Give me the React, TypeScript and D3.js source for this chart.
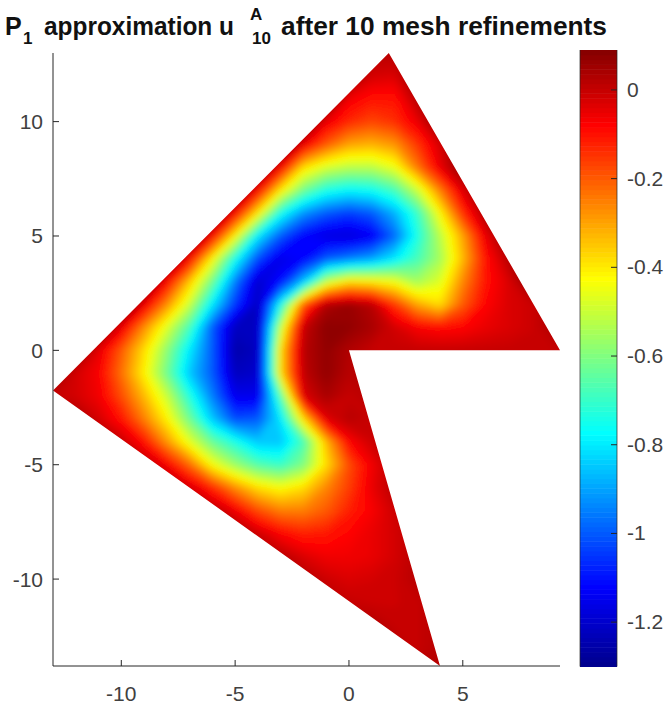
import React, { useMemo } from 'react';
import * as d3 from 'd3';

const W = 672;
const H = 711;

// field, one row per integer y, columns per integer x
const gridX0 = -13;
const gridXCount = 24;
const gridY = d3.range(13, -15, -1);
const outsideValue = 0.02;
const rowStartX = [-13, 0, -1, -2, -3, -4, -5, -6, -7, -8, -9, -10, -11, -12, -13, -13, -12, -11, -9, -8, -6, -5, -3, -2, -1, 1, 2, -13];
const rowValues = [
    [],
    [0.08, -0.02, -0.03, 0.08],
    [0.15, -0.06, -0.1, -0.1, 0.02, 0.08],
    [0.15, -0.05, -0.13, -0.17, -0.14, -0.05, 0.08],
    [0.15, -0.05, -0.2, -0.3, -0.32, -0.28, -0.15, -0.02, 0.1],
    [0.15, -0.07, -0.38, -0.48, -0.52, -0.52, -0.45, -0.24, -0.05, 0.08],
    [0.15, -0.08, -0.4, -0.62, -0.74, -0.78, -0.76, -0.68, -0.5, -0.25, -0.03, 0.08],
    [0.15, -0.08, -0.4, -0.75, -0.92, -1.0, -1.04, -1.0, -0.88, -0.7, -0.42, -0.14, 0.04, 0.08],
    [0.15, -0.08, -0.42, -0.8, -1.0, -1.12, -1.17, -1.18, -1.14, -0.98, -0.74, -0.52, -0.3, -0.05, 0.08],
    [0.15, -0.08, -0.42, -0.75, -1.02, -1.16, -1.12, -1.0, -0.95, -0.9, -0.8, -0.68, -0.55, -0.33, -0.1, 0.02, 0.08],
    [0.15, -0.08, -0.35, -0.62, -0.95, -1.2, -1.1, -0.85, -0.5, -0.38, -0.4, -0.44, -0.55, -0.47, -0.26, -0.1, -0.03, 0.08],
    [0.15, -0.05, -0.27, -0.5, -0.8, -1.05, -1.22, -0.75, -0.2, 0.03, 0.06, 0.02, -0.15, -0.3, -0.38, -0.2, -0.08, -0.03, -0.01, 0.04],
    [0.12, -0.05, -0.27, -0.47, -0.68, -1.0, -1.22, -1.22, -0.5, 0, 0.08, 0.07, 0.04, -0.02, -0.07, -0.09, -0.08, -0.05, -0.03, -0.01, 0.03],
    [0.1, -0.04, -0.2, -0.38, -0.58, -0.8, -1.0, -1.25, -1.22, -0.38, 0.02, 0.07, 0.03, 0, 0, 0, 0, 0, 0, 0, 0, 0, 0],
    [0.08, -0.02, -0.07, -0.23, -0.41, -0.62, -0.85, -1.0, -1.22, -1.2, -0.38, 0.01, 0.07, 0.02, 0.02],
    [0, -0.02, -0.06, -0.18, -0.33, -0.5, -0.73, -0.95, -1.15, -1.15, -0.65, -0.03, 0.04, 0, 0.02],
    [0.05, -0.02, -0.1, -0.25, -0.41, -0.62, -0.85, -1.02, -1.0, -0.8, -0.38, -0.04, 0.02, 0, 0.02],
    [0.06, 0, -0.1, -0.28, -0.46, -0.63, -0.74, -0.85, -0.85, -0.68, -0.33, -0.08, -0.01, 0.02],
    [0.03, -0.07, -0.22, -0.43, -0.56, -0.66, -0.7, -0.6, -0.38, -0.18, -0.06, 0.02],
    [0.06, -0.02, -0.13, -0.27, -0.38, -0.43, -0.38, -0.26, -0.16, -0.05, 0.02],
    [0.03, -0.06, -0.18, -0.25, -0.25, -0.2, -0.12, -0.07, -0.01, 0.02],
    [0.05, -0.01, -0.08, -0.12, -0.11, -0.08, -0.05, -0.02, 0.02],
    [0.02, -0.03, -0.06, -0.06, -0.05, -0.02, 0.02],
    [0.03, -0.01, -0.03, -0.02, -0.01, 0.02],
    [0.03, 0, -0.01, -0.01, 0, 0.02],
    [0.03, 0, 0, 0.02],
    [0.02, 0, 0.02],
    [],
];

const domainX = [1.75, 9.27, 0, 4, -13];
const domainY = [13, 0, 0, -13.8, -1.75];

const xTicks = [-10, -5, 0, 5];
const yTicks = [-10, -5, 0, 5, 10];
const barTicks = [0, -0.2, -0.4, -0.6, -0.8, -1, -1.2];

const colorMin = -1.3;
const colorMax = 0.09;
const levelCount = 128;

const jetStops = ['#00008f', '#0000ff', '#0080ff', '#00ffff', '#80ff80', '#ffff00', '#ff8000', '#ff0000', '#800000'];

const FONT = '"Liberation Sans", Arial, sans-serif';
const AXIS = '#262626';
const LABEL = '#404040';
const TITLE = '#111';

export default function App() {
    const x = d3.scaleLinear().domain([-13, 9.27]).range([53, 560]);
    const y = d3.scaleLinear().domain([13, -13.8]).range([53, 666]);
    const barY = d3.scaleLinear().domain([colorMax, colorMin]).range([50, 666.5]);
    const jet = d3
        .scaleLinear<string>()
        .domain(jetStops.map((_, i) => colorMin + ((colorMax - colorMin) * i) / (jetStops.length - 1)))
        .range(jetStops)
        .clamp(true);

    const levels = useMemo(
        () => d3.range(levelCount).map((i) => colorMin + ((colorMax - colorMin) * i) / levelCount),
        []
    );

    const bands = useMemo(() => {
        const values: number[] = [];
        rowValues.forEach((row, r) => {
            for (let c = 0; c < gridXCount; c++) {
                const v = row[c + gridX0 - rowStartX[r]];
                values.push(v === undefined ? outsideValue : v);
            }
        });
        return d3.contours().size([gridXCount, gridY.length]).thresholds(levels)(values);
    }, [levels]);

    // contour coords have grid points at half-integers
    const path = d3.geoPath(
        d3.geoTransform({
            point(px: number, py: number) {
                (this as any).stream.point(x(gridX0 + px - 0.5), y(gridY[0] - (py - 0.5)));
            },
        })
    );

    const outline = domainX.map((d, i) => `${x(d)},${y(domainY[i])}`).join(' ');
    const bandH = (barY.range()[1] - barY.range()[0]) / levelCount;

    return (
        <svg width={W} height={H} style={{ position: 'absolute', left: 0, top: 0, background: '#fff' }} fontFamily={FONT}>
            <defs>
                <clipPath id="domain">
                    <polygon points={outline} />
                </clipPath>
                <filter id="soften" filterUnits="userSpaceOnUse" x={0} y={0} width={W} height={H}>
                    <feGaussianBlur stdDeviation={3.5} />
                </filter>
            </defs>

            <g fontWeight={700} fill={TITLE}>
                <text x={5} y={35} fontSize={25}>
                    P
                </text>
                <text x={23} y={44} fontSize={17}>
                    1
                </text>
                <text x={44} y={35} fontSize={25} textLength={190} lengthAdjust="spacingAndGlyphs">
                    approximation u
                </text>
                <text x={250} y={20} fontSize={17}>
                    A
                </text>
                <text x={252} y={44} fontSize={17}>
                    10
                </text>
                <text x={281} y={35} fontSize={25} textLength={326} lengthAdjust="spacingAndGlyphs">
                    after 10 mesh refinements
                </text>
            </g>

            <g clipPath="url(#domain)">
                <g filter="url(#soften)">
                    {bands.map((b) => (
                        <path key={b.value} d={path(b as any) ?? ''} fill={jet(b.value)} />
                    ))}
                </g>
            </g>

            <line x1={53} x2={53} y1={53} y2={666} stroke={AXIS} />
            <line x1={53} x2={560} y1={666} y2={666} stroke={AXIS} />
            {xTicks.map((t) => (
                <g key={t}>
                    <line x1={x(t)} x2={x(t)} y1={666} y2={660} stroke={AXIS} />
                    <text x={x(t)} y={701} textAnchor="middle" fontSize={21} fill={LABEL}>
                        {t}
                    </text>
                </g>
            ))}
            {yTicks.map((t) => (
                <g key={t}>
                    <line x1={53} x2={59} y1={y(t)} y2={y(t)} stroke={AXIS} />
                    <text x={43} y={y(t) + 7.5} textAnchor="end" fontSize={21} fill={LABEL}>
                        {t}
                    </text>
                </g>
            ))}

            {levels.map((l) => (
                <rect key={l} x={580} width={37} y={barY(l) - bandH} height={bandH + 0.5} fill={jet(l)} />
            ))}
            <line x1={580} x2={580} y1={50} y2={666.5} stroke={AXIS} strokeOpacity={0.7} />
            <line x1={617} x2={617} y1={50} y2={666.5} stroke={AXIS} strokeOpacity={0.7} />
            {barTicks.map((t) => (
                <g key={t}>
                    <line x1={611} x2={617} y1={barY(t)} y2={barY(t)} stroke={AXIS} />
                    <text x={627} y={barY(t) + 7} fontSize={21} fill={LABEL}>
                        {t}
                    </text>
                </g>
            ))}
        </svg>
    );
}
